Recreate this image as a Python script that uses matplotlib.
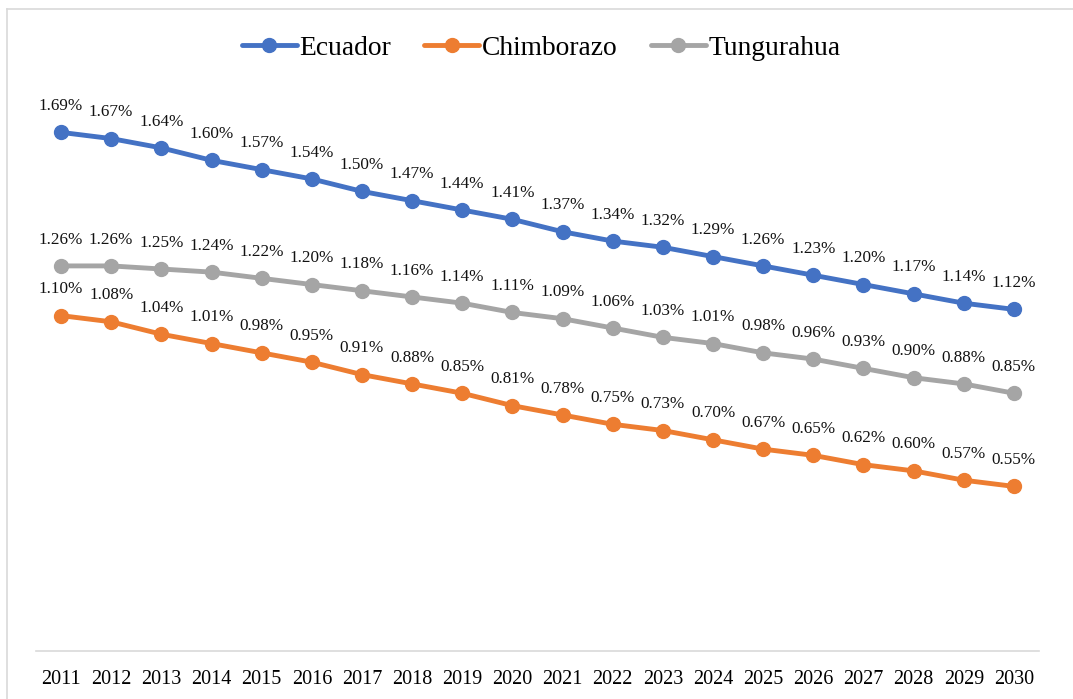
import matplotlib.pyplot as plt
from matplotlib.lines import Line2D

years = [str(y) for y in range(2011, 2031)]
ecuador = [1.69, 1.67, 1.64, 1.60, 1.57, 1.54, 1.50, 1.47, 1.44, 1.41,
           1.37, 1.34, 1.32, 1.29, 1.26, 1.23, 1.20, 1.17, 1.14, 1.12]
chimborazo = [1.10, 1.08, 1.04, 1.01, 0.98, 0.95, 0.91, 0.88, 0.85, 0.81,
              0.78, 0.75, 0.73, 0.70, 0.67, 0.65, 0.62, 0.60, 0.57, 0.55]
tungurahua = [1.26, 1.26, 1.25, 1.24, 1.22, 1.20, 1.18, 1.16, 1.14, 1.11,
              1.09, 1.06, 1.03, 1.01, 0.98, 0.96, 0.93, 0.90, 0.88, 0.85]

series = [('Ecuador', ecuador, '#4472C4'),
          ('Chimborazo', chimborazo, '#ED7D31'),
          ('Tungurahua', tungurahua, '#A5A5A5')]

plt.rcParams['font.family'] = ['Liberation Serif', 'DejaVu Serif']

W, H = 1073, 699
fig = plt.figure(figsize=(W / 100, H / 100), dpi=100)

# chart border: only the top and left edges show in the original crop
bx, by = 7 / W, (H - 9) / H
fig.add_artist(Line2D([bx, 1.0], [by, by], transform=fig.transFigure,
                      color='#D9D9D9', lw=1.2))
fig.add_artist(Line2D([bx, bx], [0.0, by], transform=fig.transFigure,
                      color='#D9D9D9', lw=1.2))

ax = fig.add_axes([36 / W, (H - 651) / H, (1039 - 36) / W, (651 - 92) / H])
x = list(range(len(years)))

for name, vals, color in series:
    ax.plot(x, vals, color=color, lw=3.5, marker='o', ms=10, label=name,
            solid_capstyle='round', zorder=3)
    for xi, v in zip(x, vals):
        ax.annotate(f'{v:.2f}%', (xi, v), xytext=(0, 19),
                    textcoords='offset points', ha='center', va='center',
                    fontsize=12.3, color='#111111')

ax.set_xlim(-0.5, len(years) - 0.5)
ax.set_ylim(0.02, 1.82)
ax.set_xticks(x)
ax.set_xticklabels(years, fontsize=14.5)
ax.tick_params(axis='x', length=0, pad=14)
ax.set_yticks([])
for s in ['top', 'right', 'left']:
    ax.spines[s].set_visible(False)
ax.spines['bottom'].set_color('#D9D9D9')
ax.spines['bottom'].set_linewidth(1.2)

fig.legend(loc='center', bbox_to_anchor=(541 / W, (H - 48) / H), ncol=3,
           frameon=False, fontsize=19.8, handlelength=2.0,
           handletextpad=0.1, columnspacing=1.2)

fig.savefig('out.png', dpi=100)
